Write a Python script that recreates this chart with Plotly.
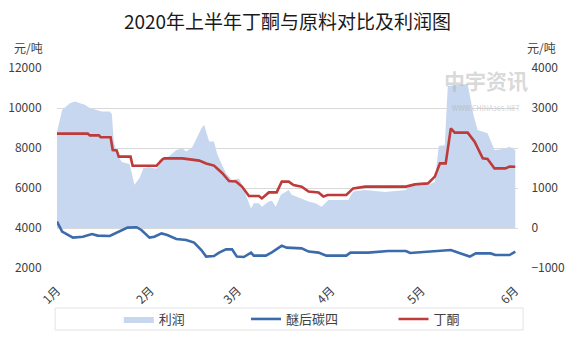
import datetime as dt
import plotly.graph_objects as go


def d(day):
    return (dt.datetime(2020, 1, 1) + dt.timedelta(days=day)).strftime("%Y-%m-%d %H:%M")

# 丁酮 (left axis, 元/吨)
mek_days = [0, 10.2, 10.9, 13.9, 14.5, 17.8, 18.5, 19.8, 20.5, 24.4, 25.1, 33, 35, 35.6, 41.6,
            43.9, 47.2, 49.5, 52.1, 54.8, 57.1, 59.4, 61.4, 63.7, 67, 68, 70.3, 72.9, 74.6, 76.9,
            78.5, 81.2, 83.5, 86.8, 88.4, 89.8, 96, 98.3, 102.3, 115.8, 118.8, 123.1, 125.4,
            127.1, 129, 130.7, 132, 136.3, 138.6, 141.3, 142.9, 145.2, 148.8, 150.2, 152.1]
mek_vals = [8720, 8720, 8630, 8630, 8540, 8540, 7900, 7880, 7570, 7570, 7110, 7110, 7430, 7480, 7480,
            7420, 7370, 7230, 7120, 6750, 6350, 6330, 6070, 5600, 5600, 5480, 5780, 5780, 6320, 6320,
            6150, 6070, 5820, 5780, 5570, 5650, 5650, 5980, 6070, 6070, 6180, 6230, 6570,
            7230, 7230, 8980, 8770, 8770, 8320, 7480, 7450, 6980, 6980, 7070, 7060]

# 醚后碳四 (left axis, 元/吨)
c4_days = [0, 1.7, 5.3, 8.6, 11.6, 13.5, 17.5, 20.8, 23.4, 26.4, 28, 30.7, 32.3, 34.7, 36.6, 39.6,
           42.9, 45.5, 47.9, 49.5, 52.1, 53.8, 56.1, 58.1, 59.7, 62, 64.4, 65.3, 69.3, 71.3, 72.9,
           74.6, 76.2, 81.2, 83.5, 86.8, 89.4, 96, 97.4, 103.3, 109.9, 115.8, 117.2, 123.1, 130.7,
           134, 137, 139, 143.9, 145.5, 150.2, 152.1]
c4_vals = [4320, 3820, 3520, 3560, 3700, 3620, 3600, 3820, 4020, 4040, 3900, 3520, 3560, 3730, 3650, 3450,
           3400, 3270, 2900, 2570, 2600, 2770, 2930, 2930, 2570, 2550, 2770, 2620, 2620, 2780, 2950,
           3120, 3020, 2980, 2820, 2770, 2620, 2620, 2770, 2770, 2850, 2850, 2750, 2800, 2900,
           2730, 2570, 2730, 2730, 2650, 2650, 2820]

# 利润 (right axis, 元/吨)
profit_days = [0, 1.7, 4.3, 5.9, 9.2, 10.9, 13.2, 14.9, 17.5, 18.2, 18.8, 19.8, 21.5, 24.1, 25.7,
               27.4, 28.7, 30.7, 33, 34, 37.3, 39.6, 41.6, 42.9, 44.9, 46.2, 47.9, 48.8, 50.5, 52.1,
               53.1, 54.5, 56.1, 58.1, 60.4, 61.4, 63, 64.4, 65.3, 67, 68, 70.3, 71.3, 72.6, 74.3,
               76.9, 77.9, 81.2, 83.5, 85.8, 87.8, 90.1, 96.7, 98.3, 102.3, 108.9, 112.2, 115.8,
               117.2, 123.1, 125.4, 126.7, 128.7, 129.7, 136.3, 138.3, 139.6, 142.9, 145.2, 148.5,
               150.2, 152.1]
profit_vals = [2400, 2950, 3120, 3160, 3080, 3000, 2950, 2910, 2910, 2850, 2200, 1870, 1650, 1600, 1080,
               1250, 1500, 1520, 1480, 1700, 1800, 1950, 1990, 1910, 2020, 2240, 2490, 2580, 2160, 2160,
               1870, 1620, 1370, 1200, 1240, 1080, 740, 490, 620, 620, 530, 660, 680, 530, 830,
               950, 830, 740, 660, 620, 530, 700, 700, 910, 950, 900, 920, 950,
               1050, 1075, 1150, 2050, 2070, 3550, 3600, 2800, 2450, 2370, 1950, 1980,
               2030, 1950]

month_ticks = ["2020-01-01", "2020-02-01", "2020-03-01", "2020-04-01", "2020-05-01", "2020-06-01"]
month_labels = ["1月", "2月", "3月", "4月", "5月", "6月"]

FONT = "Microsoft YaHei, Noto Sans CJK SC, sans-serif"
TXT = "#404040"

fig = go.Figure()
# profit area on the base axis (right side), lines on the overlaying left axis so they sit on top
fig.add_trace(go.Scatter(
    x=[d(v) for v in profit_days], y=profit_vals, name="利润", yaxis="y", legend="legend",
    mode="lines", line=dict(width=0, color="#C6D7EF"), fill="tozeroy",
    fillcolor="#C6D7EF"))
fig.add_trace(go.Scatter(
    x=[d(v) for v in c4_days], y=c4_vals, name="醚后碳四", yaxis="y2", legend="legend2",
    mode="lines", line=dict(width=2.6, color="#3B6BAB")))
fig.add_trace(go.Scatter(
    x=[d(v) for v in mek_days], y=mek_vals, name="丁酮", yaxis="y2", legend="legend3",
    mode="lines", line=dict(width=2.6, color="#BE3A3B")))

leg_common = dict(orientation="h", xanchor="left", y=-0.255, yanchor="middle",
                  font=dict(size=13, color=TXT), bgcolor="rgba(0,0,0,0)", itemwidth=30)

fig.update_layout(
    width=567, height=341,
    margin=dict(l=57, r=49, t=68, b=73, autoexpand=False),
    paper_bgcolor="white", plot_bgcolor="white",
    font=dict(family=FONT, size=12, color=TXT),
    title=dict(text="2020年上半年丁酮与原料对比及利润图", x=0.5, xref="paper", xanchor="center",
               y=0.935, yanchor="middle", font=dict(size=19, color="#1a1a1a", family=FONT)),
    xaxis=dict(type="date", range=["2020-01-01", "2020-06-02"], tickvals=month_ticks,
               ticktext=month_labels, tickangle=-45, showgrid=False, zeroline=False,
               showline=False, ticks="outside", ticklen=10, tickcolor="rgba(0,0,0,0)",
               tickfont=dict(size=12, color=TXT), automargin=False),
    yaxis=dict(range=[-1000, 4000], dtick=1000, tick0=-1000, side="right", tickformat="d",
               showgrid=True, gridcolor="#D9D9D9", gridwidth=1, zeroline=False, showline=False,
               ticks="outside", ticklen=10, tickcolor="rgba(0,0,0,0)",
               tickfont=dict(size=12, color=TXT), automargin=False),
    yaxis2=dict(range=[2000, 12000], dtick=2000, tick0=2000, overlaying="y", side="left",
                tickformat="d", showgrid=False, zeroline=False, showline=False, ticks="outside",
                ticklen=12, tickcolor="rgba(0,0,0,0)", tickfont=dict(size=12, color=TXT),
                automargin=False),
    legend=dict(x=0.134, **leg_common),
    legend2=dict(x=0.410, **leg_common),
    legend3=dict(x=0.730, **leg_common),
    showlegend=True,
)

fig.add_shape(type="rect", xref="paper", yref="paper", x0=-0.004, x1=1.011, y0=-0.31, y1=-0.2,
              line=dict(color="#E3E3E3", width=1), fillcolor="rgba(0,0,0,0)", layer="below")

fig.add_annotation(text="元/吨", xref="paper", yref="paper", x=-0.061, y=1.105, showarrow=False,
                   xanchor="center", yanchor="middle", font=dict(size=12, color=TXT))
fig.add_annotation(text="元/吨", xref="paper", yref="paper", x=1.05, y=1.105, showarrow=False,
                   xanchor="center", yanchor="middle", font=dict(size=12, color=TXT))
fig.add_annotation(text="<b>中宇资讯</b>", xref="paper", yref="paper", x=0.93, y=0.94, showarrow=False,
                   xanchor="center", yanchor="middle", font=dict(size=21, color="rgba(170,170,170,0.45)"))
fig.add_annotation(text="WWW.CHINA365.NET", xref="paper", yref="paper", x=0.93, y=0.80, showarrow=False,
                   xanchor="center", yanchor="middle", font=dict(size=7, color="rgba(170,170,170,0.55)"))

fig.write_html("out.html")
